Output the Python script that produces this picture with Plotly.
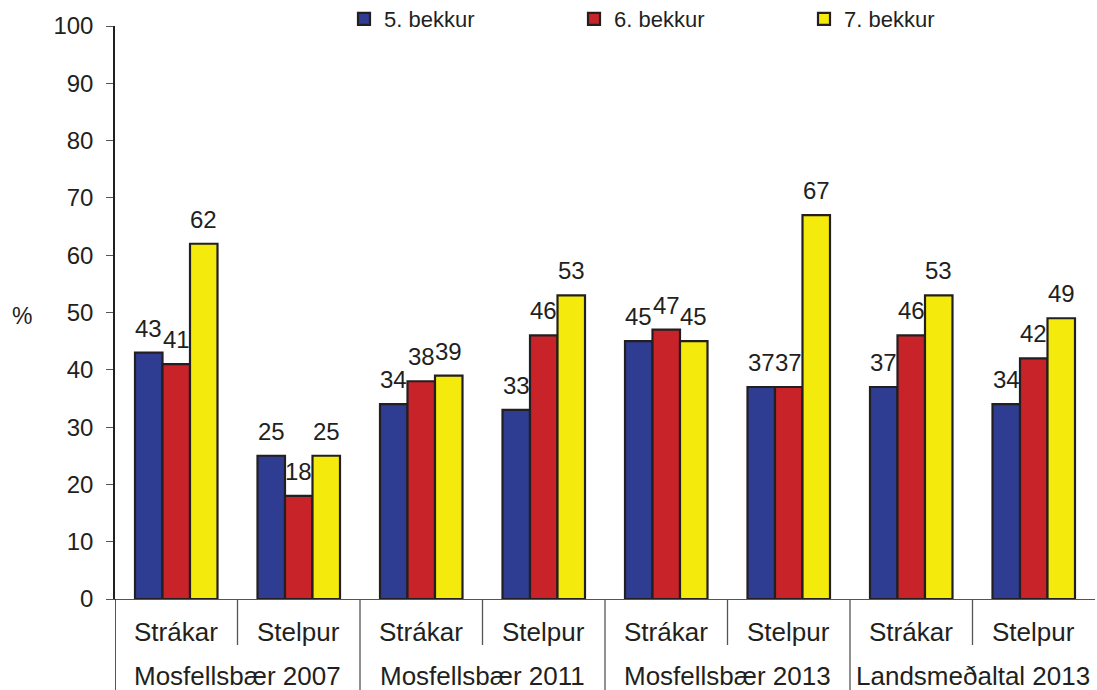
import plotly.graph_objects as go

# Survey results by group, sex and school grade (%)
groups = ["Mosfellsbær 2007", "Mosfellsbær 2011", "Mosfellsbær 2013", "Landsmeðaltal 2013"]
sexes = ["Strákar", "Stelpur"]
series_names = ["5. bekkur", "6. bekkur", "7. bekkur"]

grade5 = [43, 25, 34, 33, 45, 37, 37, 34]
grade6 = [41, 18, 38, 46, 47, 37, 46, 42]
grade7 = [62, 25, 39, 53, 45, 67, 53, 49]

y_ticks = [0, 10, 20, 30, 40, 50, 60, 70, 80, 90, 100]

colors = ["#2E3C92", "#C82329", "#F4EA0C"]
text_color = "#231F20"
font_family = "Liberation Sans, Arial, sans-serif"

bar_w = 0.2245
offsets = [-bar_w, 0.0, bar_w]
n_cat = len(grade5)
positions = list(range(n_cat))

fig = go.Figure()
annotations = []
for name, vals, col, off in zip(series_names, [grade5, grade6, grade7], colors, offsets):
    xs = [p + off for p in positions]
    fig.add_trace(go.Bar(
        x=xs, y=vals, width=bar_w, name=name,
        marker=dict(color=col, line=dict(color="#231F20", width=2.2)),
    ))
    for x, v in zip(xs, vals):
        annotations.append(dict(
            x=x, y=v, xref="x", yref="y", text=str(v), showarrow=False,
            yanchor="bottom", yshift=9,
            font=dict(size=24, color=text_color, family=font_family),
        ))

plot_h = 573.0

def below(px):
    return -px / plot_h

# Sub-category labels and separators
shapes = []
for i in range(n_cat):
    annotations.append(dict(
        x=i, y=below(33), xref="x", yref="paper", text=sexes[i % 2],
        showarrow=False, yanchor="middle",
        font=dict(size=26, color=text_color, family=font_family),
    ))
for g, name in enumerate(groups):
    annotations.append(dict(
        x=2 * g + 0.5, y=below(77), xref="x", yref="paper", text=name,
        showarrow=False, yanchor="middle",
        font=dict(size=26, color=text_color, family=font_family),
    ))

for b in [0.5, 2.5, 4.5, 6.5]:
    shapes.append(dict(type="line", xref="x", yref="paper", x0=b, x1=b,
                       y0=0, y1=below(46), line=dict(color="#555555", width=1.3)))
for b in [1.5, 3.5, 5.5]:
    shapes.append(dict(type="line", xref="x", yref="paper", x0=b, x1=b,
                       y0=0, y1=below(95), line=dict(color="#555555", width=1.3)))
shapes.append(dict(type="line", xref="x", yref="paper", x0=-0.5, x1=-0.5,
                   y0=0, y1=below(95), line=dict(color="#231F20", width=1.5)))

# Y axis unit label
annotations.append(dict(
    x=(10 - 115) / 980.0, y=1 - (316 - 26) / plot_h, xref="paper", yref="paper",
    text="%", showarrow=False, yanchor="middle",
    font=dict(size=23, color=text_color, family=font_family),
))

fig.update_layout(
    width=1097, height=690,
    margin=dict(l=115, r=2, t=26, b=91, autoexpand=False),
    paper_bgcolor="white", plot_bgcolor="white",
    barmode="overlay",
    showlegend=True,
    legend=dict(
        orientation="h", x=(344 - 115) / 980.0, xanchor="left",
        y=1 + 7 / plot_h, yanchor="middle",
        entrywidth=185, entrywidthmode="pixels",
        font=dict(size=22, color=text_color, family=font_family),
        bgcolor="rgba(0,0,0,0)",
    ),
    font=dict(family=font_family, color=text_color),
    xaxis=dict(range=[-0.5, 7.5], showticklabels=False, ticks="",
               showgrid=False, zeroline=False, showline=True,
               linecolor="#555555", linewidth=1.3, fixedrange=True),
    yaxis=dict(range=[0, 100], tickvals=y_ticks, ticks="outside", ticklen=7,
               tickcolor="#555555", showgrid=False, zeroline=False,
               showline=True, linecolor="#231F20", linewidth=1.5,
               tickfont=dict(size=24, color=text_color, family=font_family),
               ticklabelstandoff=8),
    annotations=annotations,
    shapes=shapes,
)

fig.write_html("out.html")
